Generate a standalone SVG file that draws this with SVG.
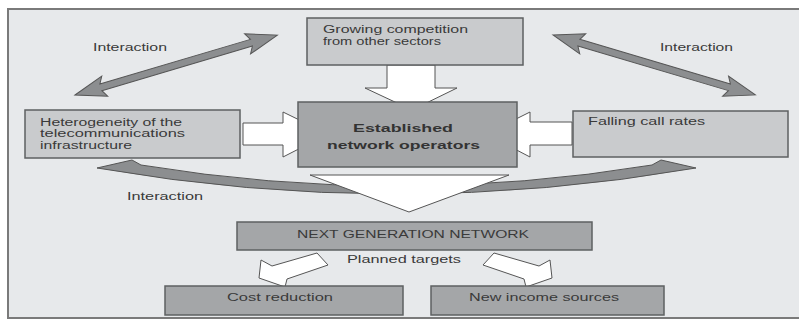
<svg xmlns="http://www.w3.org/2000/svg" width="799" height="321" viewBox="0 0 799 321">
<defs>
<style>
.t{font-family:"Liberation Sans",Arial,sans-serif;font-size:10px;fill:#3a3a3a}
.b{font-weight:bold;font-size:11px;fill:#333}
.box{stroke:#5e6062;stroke-width:1.5}
.light{fill:#c9cbcd}
.dark{fill:#a4a6a8}
.wa{fill:#ffffff;stroke:#555;stroke-width:1}
.ga{fill:#8c8e90;stroke:#555;stroke-width:1}
</style>
<path id="dbl" d="M0,0 L31,-10.5 L27,-3.5 L184,-3.5 L180,-10.5 L211,0 L180,10.5 L184,3.5 L27,3.5 L31,10.5 Z"/>
</defs>
<rect x="0" y="0" width="799" height="321" fill="#ffffff"/>
<rect x="8" y="9" width="800" height="309" fill="#e7e9eb" stroke="#7a7a7a" stroke-width="2"/>

<g id="connectors">
  <use href="#dbl" class="ga" transform="translate(75,95) rotate(-16.5)"/>
  <use href="#dbl" class="ga" transform="translate(553,35) rotate(16.5)"/>
  <path class="ga" d="M97,168 L132,160 L141,165 Q396.5,207 652,165 L661,160 L696,168 Q396.5,220 97,168 Z"/>
  <path class="wa" d="M387,65 L435,65 L435,88 L457,88 L412,110 L365,88 L387,88 Z"/>
  <path class="wa" d="M243,123 L283,123 L283,112 L328,134 L283,157 L283,145 L243,145 Z"/>
  <path class="wa" d="M572,122 L530,122 L530,112 L486,134 L530,157 L530,145 L572,145 Z"/>
  <path class="wa" d="M310,175 L509,175 L409,212 Z"/>
  <path class="wa" d="M317,253 L328,265 L287,279 L285,287 L259,278 L261,260 L272,266 Z"/>
  <path class="wa" d="M494,253 L483,265 L524,279 L526,287 L552,278 L550,260 L539,266 Z"/>
  <text class="t" x="93" y="51" font-size="9" textLength="74" lengthAdjust="spacingAndGlyphs">Interaction</text>
  <text class="t" x="660" y="51" font-size="9" textLength="73" lengthAdjust="spacingAndGlyphs">Interaction</text>
  <text class="t" x="127" y="200" font-size="9" textLength="76" lengthAdjust="spacingAndGlyphs">Interaction</text>
  <text class="t" x="347" y="263" textLength="114" lengthAdjust="spacingAndGlyphs">Planned targets</text>
</g>

<g id="growing">
  <rect class="box light" x="307" y="18" width="216" height="47"/>
  <text class="t" x="323" y="33" textLength="145" lengthAdjust="spacingAndGlyphs">Growing competition</text>
  <text class="t" x="323" y="45" textLength="118" lengthAdjust="spacingAndGlyphs">from other sectors</text>
</g>

<g id="heterogeneity">
  <rect class="box light" x="25" y="110" width="215" height="48"/>
  <text class="t" x="40" y="126" textLength="142" lengthAdjust="spacingAndGlyphs">Heterogeneity of the</text>
  <text class="t" x="40" y="137" textLength="145" lengthAdjust="spacingAndGlyphs">telecommunications</text>
  <text class="t" x="40" y="149" textLength="92" lengthAdjust="spacingAndGlyphs">infrastructure</text>
</g>

<g id="falling">
  <rect class="box light" x="573" y="111" width="215" height="46"/>
  <text class="t" x="588" y="125" textLength="117" lengthAdjust="spacingAndGlyphs">Falling call rates</text>
</g>

<g id="established">
  <rect class="box dark" x="298" y="102" width="219" height="65"/>
  <text class="t b" x="353" y="132" textLength="100" lengthAdjust="spacingAndGlyphs">Established</text>
  <text class="t b" x="327" y="149" textLength="153" lengthAdjust="spacingAndGlyphs">network operators</text>
</g>

<g id="ngn">
  <rect class="box dark" x="237" y="222" width="355" height="28"/>
  <text class="t" x="297" y="238" font-size="9" textLength="232" lengthAdjust="spacingAndGlyphs">NEXT GENERATION NETWORK</text>
</g>

<g id="cost">
  <rect class="box dark" x="165" y="286" width="238" height="29"/>
  <text class="t" x="227" y="301" textLength="106" lengthAdjust="spacingAndGlyphs">Cost reduction</text>
</g>

<g id="income">
  <rect class="box dark" x="431" y="286" width="233" height="29"/>
  <text class="t" x="469" y="301" textLength="150" lengthAdjust="spacingAndGlyphs">New income sources</text>
</g>
</svg>
